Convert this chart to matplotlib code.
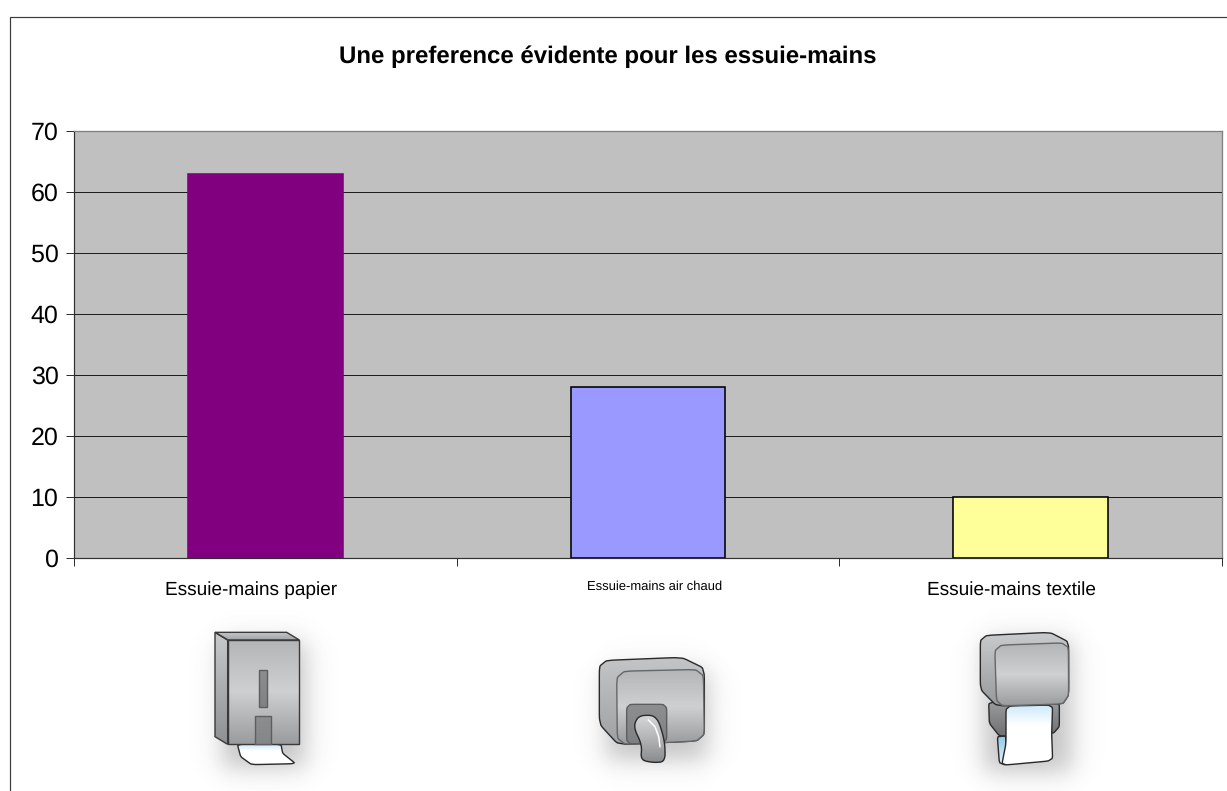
import matplotlib
matplotlib.use("Agg")
import matplotlib.pyplot as plt
import numpy as np
from matplotlib.colors import to_rgb
from matplotlib.patches import Polygon

plt.rcParams["font.family"] = ["Liberation Sans", "DejaVu Sans"]
plt.rcParams["text.hinting"] = "no_hinting"
plt.rcParams["text.hinting_factor"] = 1

W, H = 1227, 791
PX = 0.72  # one pixel in points at dpi 100

title = "Une preference évidente pour les essuie-mains"
categories = ["Essuie-mains papier", "Essuie-mains air chaud", "Essuie-mains textile"]
values = [63, 28, 10]
bar_colors = ["#800080", "#9999FF", "#FFFF99"]
edge_colors = ["#800080", "#000000", "#000000"]
y_ticks = [0, 10, 20, 30, 40, 50, 60, 70]

# the category labels sit off-centre in the reference, one size differs
label_sizes = [13.55, 9.6, 13.55]
label_xy = [(251.5, 590), (655, 586.5), (1011.5, 590)]

BODY = ["#b4b5b7", "#cfd0d2", "#9a9b9d"]
PAPER = ["#cdeafa", "#ffffff", "#ffffff", "#ffffff"]


def chaikin(points, n=3, cut=0.09):
    """Round the corners of a closed polygon."""
    pts = np.asarray(points, dtype=float)
    for _ in range(n):
        nxt = np.roll(pts, -1, axis=0)
        a = pts * (1 - cut) + nxt * cut
        b = pts * cut + nxt * (1 - cut)
        pts = np.empty((len(a) * 2, 2))
        pts[0::2] = a
        pts[1::2] = b
    return pts


def crop(ox, oy, points):
    # points were read on 3x crops of the reference
    return [(ox + x / 3, oy + y / 3) for x, y in points]


def shape(ax, pts, stops, edge="#2a2a2a", lw=1.4, z=5, rounded=True, cut=0.09):
    """Filled outline with a vertical gradient, in pixel coordinates."""
    if rounded:
        pts = chaikin(pts, cut=cut)
    pts = np.asarray(pts)
    x0, x1 = pts[:, 0].min(), pts[:, 0].max()
    y0, y1 = pts[:, 1].min(), pts[:, 1].max()
    rgb = np.array([to_rgb(c) for c in stops])
    t = np.linspace(0, 1, 128)
    pos = np.linspace(0, 1, len(stops))
    grad = np.stack([np.interp(t, pos, rgb[:, i]) for i in range(3)], axis=1)[:, None, :]
    im = ax.imshow(grad, extent=(x0, x1, y1, y0), aspect="auto", zorder=z)
    patch = Polygon(pts, closed=True, fc="none", ec=edge, lw=lw * PX, zorder=z + 0.1)
    ax.add_patch(patch)
    im.set_clip_path(patch)


def shadow(ax, x0, y0, x1, y1, soft=15, strength=0.36):
    xs = np.arange(x0 - 60, x1 + 60)
    ys = np.arange(y0 - 60, y1 + 60)
    xx, yy = np.meshgrid(xs, ys)
    s = lambda d: 0.5 * (1 + np.tanh(d / soft))
    alpha = s(xx - x0) * s(x1 - xx) * s(yy - y0) * s(y1 - yy) * strength
    rgba = np.zeros(alpha.shape + (4,))
    rgba[..., :3] = 0.35
    rgba[..., 3] = alpha
    ax.imshow(rgba, extent=(xs[0], xs[-1], ys[-1], ys[0]), aspect="auto", zorder=2)


def paper_dispenser(ax):
    shadow(ax, 222, 642, 306, 768)
    ox, oy = 150, 570
    shape(ax, crop(ox, oy, [(262, 523), (393, 523), (398, 550), (437, 581), (305, 584), (272, 560)]),
          PAPER, z=3)
    shape(ax, crop(ox, oy, [(195, 187), (233, 210), (233, 523), (195, 500)]),
          ["#c9cacc", "#8f9092"], edge="#3a3a3a", rounded=False)
    shape(ax, crop(ox, oy, [(195, 187), (410, 187), (448, 210), (233, 210)]),
          ["#c8c9cb", "#a2a3a5"], edge="#3a3a3a", rounded=False)
    shape(ax, crop(ox, oy, [(233, 210), (448, 210), (448, 523), (233, 523)]), BODY, edge="#3a3a3a", rounded=False)
    shape(ax, crop(ox, oy, [(328, 300), (350, 300), (350, 410), (328, 410)]), ["#8d8e90", "#818284"],
          edge="#5d5e60", rounded=False, z=6)
    shape(ax, crop(ox, oy, [(315, 437), (363, 437), (363, 523), (315, 523)]), ["#8d8e90", "#858688"],
          edge="#5d5e60", rounded=False, z=6)


def air_dryer(ax):
    shadow(ax, 606, 670, 708, 760)
    ox, oy = 540, 570
    shape(ax, crop(ox, oy, [(178, 272), (425, 262), (493, 295), (493, 512), (235, 524), (178, 462)]),
          ["#c4c5c7", "#a0a1a3"])
    shape(ax, crop(ox, oy, [(230, 304), (490, 298), (493, 512), (232, 524)]), BODY, edge="#66676a", z=6)
    shape(ax, crop(ox, oy, [(260, 403), (380, 403), (380, 518), (260, 522)]), ["#8e8f91", "#7f8082"],
          edge="#5d5e60", z=7)
    # bent nozzle and its highlight
    shape(ax, crop(ox, oy, [(306, 525), (280, 470), (296, 436), (350, 436), (374, 510), (376, 575),
                            (340, 578), (302, 570)]), ["#d8d9db", "#b4b5b7", "#8a8b8d"], z=8, cut=0.22)
    ax.plot(*zip(*crop(ox, oy, [(325, 450), (345, 470), (356, 500), (360, 530)])),
            color="white", linewidth=1.5 * PX, zorder=9)


def towel_dispenser(ax):
    shadow(ax, 984, 640, 1072, 772)
    ox, oy = 900, 570
    shape(ax, crop(ox, oy, [(266, 395), (478, 395), (478, 470), (460, 490), (300, 500), (268, 460)]),
          ["#9c9d9f", "#6e6f71"], z=4)
    shape(ax, crop(ox, oy, [(292, 500), (318, 498), (316, 585), (298, 578)]), ["#8fc8ea", "#e8f4fb"], z=5)
    shape(ax, crop(ox, oy, [(318, 408), (458, 405), (455, 490), (458, 572), (305, 586), (318, 520)]),
          PAPER, z=6)
    shape(ax, crop(ox, oy, [(241, 197), (450, 187), (506, 216), (506, 375), (488, 402), (290, 408), (241, 358)]),
          ["#c9cacc", "#98999b"], z=7)
    shape(ax, crop(ox, oy, [(284, 226), (505, 218), (506, 375), (488, 402), (290, 408)]), BODY,
          edge="#66676a", z=8)


fig = plt.figure(figsize=(W / 100, H / 100), dpi=100, facecolor="white")

# chart area, placed from the pixel box of the reference
left, right, top, bottom = 74, 1222, 131, 558
ax = fig.add_axes([left / W, 1 - bottom / H, (right - left) / W, (bottom - top) / H])
ax.set_facecolor("#C0C0C0")
ax.set_axisbelow(True)

x = np.arange(len(categories))
ax.bar(x, values, width=0.405, color=bar_colors, edgecolor=edge_colors, linewidth=1.6 * PX, zorder=3)
ax.set_xlim(-0.5, 2.5)
ax.set_ylim(0, 70)

ax.set_yticks(y_ticks)
ax.tick_params(axis="y", labelsize=18, length=8 * PX, width=PX, pad=5.5, color="#303030")
ax.grid(axis="y", color="#1e1e1e", linewidth=PX)

ax.set_xticks(np.arange(-0.5, 3))
ax.set_xticklabels([])
ax.tick_params(axis="x", which="major", length=8 * PX, width=PX, color="#303030")

for side in ["top", "right"]:
    ax.spines[side].set_color("#808080")
    ax.spines[side].set_linewidth(1.3 * PX)
for side in ["left", "bottom"]:
    ax.spines[side].set_color("#303030")
    ax.spines[side].set_linewidth(1.2 * PX)

# overlay in pixel coordinates for the frame, the texts and the pictures
ov = fig.add_axes([0, 0, 1, 1], facecolor="none", zorder=5)
ov.axis("off")
ov.plot([9.5, 9.5, W], [H, 16.5, 16.5], color="#3c3c3c", linewidth=1.2 * PX, solid_joinstyle="miter")
ov.text(607.5, 57, title, ha="center", va="center", fontsize=17.3, fontweight="bold", color="black")
for name, (lx, ly), size in zip(categories, label_xy, label_sizes):
    ov.text(lx, ly, name, ha="center", va="center", fontsize=size, color="black")

paper_dispenser(ov)
air_dryer(ov)
towel_dispenser(ov)
ov.set_xlim(0, W)
ov.set_ylim(H, 0)

fig.savefig("out.png", dpi=100)
